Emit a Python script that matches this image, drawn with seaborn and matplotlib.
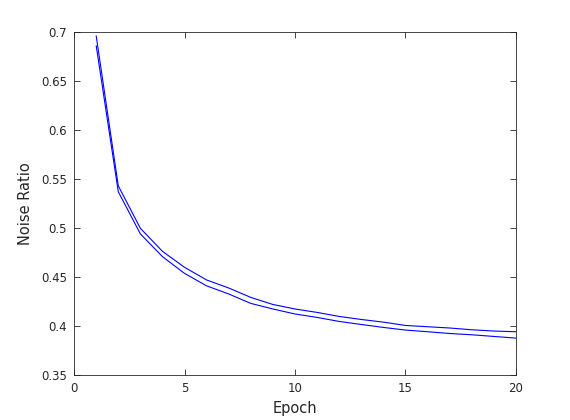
import matplotlib
matplotlib.use("Agg")
import matplotlib.pyplot as plt
import seaborn as sns
import pandas as pd

# values
epochs = list(range(1, 21))
noise_upper = [0.696, 0.543, 0.4997, 0.4762, 0.4599, 0.447, 0.4388, 0.4292, 0.422, 0.4174,
               0.4139, 0.4098, 0.4067, 0.404, 0.4006, 0.3993, 0.398, 0.3962, 0.3949, 0.3942]
noise_lower = [0.686, 0.537, 0.494, 0.4708, 0.4537, 0.441, 0.4327, 0.4231, 0.4174, 0.4123,
               0.4088, 0.4047, 0.4016, 0.3986, 0.3959, 0.3942, 0.3924, 0.3911, 0.3894, 0.3877]

df = pd.DataFrame({
    "Epoch": epochs * 2,
    "Noise Ratio": noise_upper + noise_lower,
    "run": ["a"] * len(epochs) + ["b"] * len(epochs),
})

sns.set_style("ticks")
plt.rcParams["font.family"] = ["DejaVu Sans"]

fig = plt.figure(figsize=(5.7, 4.2), dpi=100)
ax = fig.add_axes([0.13, 0.107, 0.775, 0.817])

sns.lineplot(data=df, x="Epoch", y="Noise Ratio", units="run", estimator=None,
             color="#0000ff", linewidth=0.8, ax=ax)

dark = "#262626"
ax.set_xlim(0, 20)
ax.set_ylim(0.35, 0.7)
ax.set_xticks([0, 5, 10, 15, 20])
ax.set_yticks([0.35, 0.4, 0.45, 0.5, 0.55, 0.6, 0.65, 0.7])
ax.set_yticklabels(["0.35", "0.4", "0.45", "0.5", "0.55", "0.6", "0.65", "0.7"])
ax.tick_params(direction="in", top=True, right=True, length=4, width=0.6,
               colors=dark, labelsize=8.5, pad=5)
for side in ax.spines.values():
    side.set_visible(True)
    side.set_color(dark)
    side.set_linewidth(0.6)
ax.set_xlabel("Epoch", fontsize=10.5, color=dark, labelpad=4)
ax.set_ylabel("Noise Ratio", fontsize=10.5, color=dark, labelpad=6)

fig.savefig("out.png", dpi=100)
